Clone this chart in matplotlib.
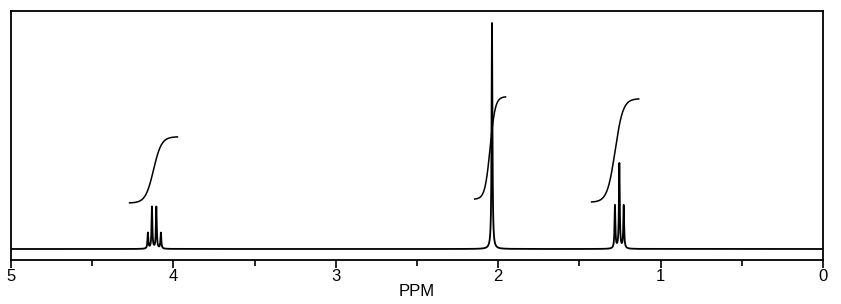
#!/usr/bin/env python3
import matplotlib
matplotlib.use("Agg")
import matplotlib.pyplot as plt
import numpy as np

plt.rcParams["font.family"] = ["Liberation Sans", "DejaVu Sans"]

# peak list (ppm, relative height), singlet = 100
quartet_ppm = [4.157, 4.132, 4.105, 4.077]
quartet_h = [7.0, 18.5, 18.5, 7.0]
singlet_ppm = [2.038]
singlet_h = [100.0]
triplet_ppm = [1.281, 1.254, 1.227]
triplet_h = [19.0, 37.6, 19.0]

# integral traces: (ppm start, ppm end, level start, level end)
integ_ppm_start = [4.27, 2.145, 1.425]
integ_ppm_end = [3.975, 1.955, 1.135]
integ_lo = [20.4, 22.1, 20.8]
integ_hi = [49.6, 67.3, 66.4]

LW = 0.003  # line half width in ppm


def lorentz(x, x0, h, w):
    return h * w ** 2 / ((x - x0) ** 2 + w ** 2)


def main():
    ppm = np.linspace(0, 5, 20001)
    spec = np.zeros_like(ppm)
    for pos, hts in [(quartet_ppm, quartet_h), (singlet_ppm, singlet_h), (triplet_ppm, triplet_h)]:
        for p, h in zip(pos, hts):
            spec += lorentz(ppm, p, h, LW)

    fig = plt.figure(figsize=(8.41, 3.04), dpi=100)
    ax = fig.add_axes([11 / 841, 44 / 304, 812 / 841, 249 / 304])
    ax.plot(ppm, spec, color="black", lw=1.3)

    for a, b, lo, hi in zip(integ_ppm_start, integ_ppm_end, integ_lo, integ_hi):
        x = np.linspace(a, b, 200)
        t = (x - a) / (b - a)
        s = 0.5 * (1 + np.tanh((t - 0.5) * 6.0))
        s = (s - s[0]) / (s[-1] - s[0])
        ax.plot(x, lo + (hi - lo) * s, color="black", lw=1.1)

    ax.set_xlim(5, 0)
    ax.set_ylim(-4.87, 105.3)
    ax.set_yticks([])
    ax.set_xticks([5, 4, 3, 2, 1, 0])
    ax.set_xticks([4.5, 3.5, 2.5, 1.5, 0.5], minor=True)
    ax.tick_params(axis="x", which="major", direction="out", length=6, width=1.2, labelsize=12, pad=0.5)
    ax.tick_params(axis="x", which="minor", direction="out", length=4, width=1.2)
    for s in ax.spines.values():
        s.set_linewidth(1.3)
    ax.set_xlabel("PPM", fontsize=12, labelpad=0)

    fig.savefig("out.png", dpi=100)


if __name__ == "__main__":
    main()
